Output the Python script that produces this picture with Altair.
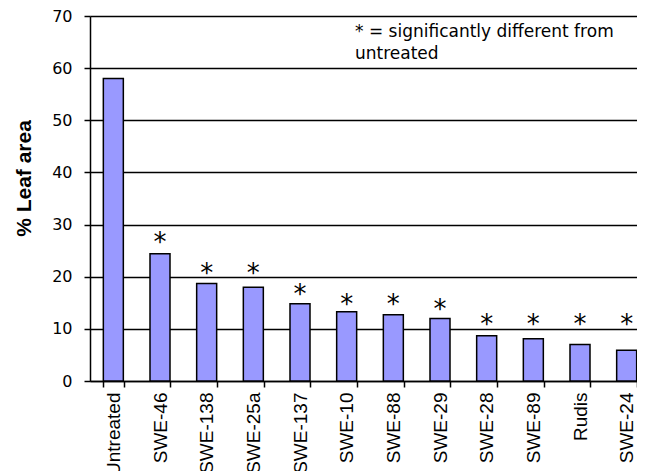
import altair as alt
import pandas as pd

categories = ["Untreated", "SWE-46", "SWE-138", "SWE-25a", "SWE-137", "SWE-10",
              "SWE-88", "SWE-29", "SWE-28", "SWE-89", "Rudis", "SWE-24"]
leaf_area = [58.0, 24.4, 18.7, 18.0, 14.8, 13.3, 12.7, 12.0, 8.7, 8.1, 7.0, 5.9]
star_pos = [None, 27.9, 21.9, 21.9, 17.8, 16.0, 16.0, 14.9, 12.0, 12.0, 12.0, 12.0]
star_text = ["", "*", "*", "*", "*", "*", "*", "*", "*", "*", "*", "*"]
y_ticks = [0, 10, 20, 30, 40, 50, 60, 70]
note_lines = ["* = significantly different from", "untreated"]

df = pd.DataFrame({"cat": categories, "val": leaf_area, "sy": star_pos, "st": star_text})

x = alt.X("cat:N", sort=categories, title=None,
          scale=alt.Scale(paddingInner=0.56, paddingOuter=0.28),
          axis=alt.Axis(labelAngle=-90, labelFont="Liberation Sans", labelFontSize=19,
                        labelColor="black", tickBand="extent", tickSize=6, tickColor="black",
                        tickWidth=1.5, domainColor="black", domainWidth=1.5, labelPadding=5,
                        grid=False))
y = alt.Y("val:Q", title="% Leaf area",
          scale=alt.Scale(domain=[0, 70], nice=False),
          axis=alt.Axis(values=y_ticks, labelFont="DejaVu Sans", labelFontSize=16,
                        labelColor="black", tickSize=6, tickColor="black", tickWidth=1.5,
                        domainColor="black", domainWidth=1.5, labelPadding=12,
                        grid=True, gridColor="black", gridWidth=1.3, gridOpacity=1,
                        titleFont="Liberation Sans", titleFontSize=21, titleFontWeight="bold",
                        titleColor="black", titlePadding=17, titleY=162))

bars = alt.Chart(df).mark_bar(size=20, fill="#9999FF", stroke="black", strokeWidth=1.5).encode(
    x=x, y=y)

stars = alt.Chart(df).transform_filter("datum.sy != null").mark_text(
    font="DejaVu Sans", fontSize=26, color="black", baseline="alphabetic", dy=15).encode(
    x=alt.X("cat:N", sort=categories), y=alt.Y("sy:Q"), text="st:N")

note = alt.Chart(pd.DataFrame({"t": ["\n".join(note_lines)]})).mark_text(
    font="DejaVu Sans", fontSize=17, color="black", align="left", baseline="alphabetic",
    lineBreak="\n", lineHeight=22).encode(
    x=alt.value(265), y=alt.value(21), text="t:N")

chart = alt.layer(bars, stars, note).properties(
    width=560, height=365,
    padding={"left": 5, "top": 0, "right": -13, "bottom": 0}
).configure_view(stroke=None)

chart.save("out.html", embed_options={"renderer": "svg", "actions": False})
